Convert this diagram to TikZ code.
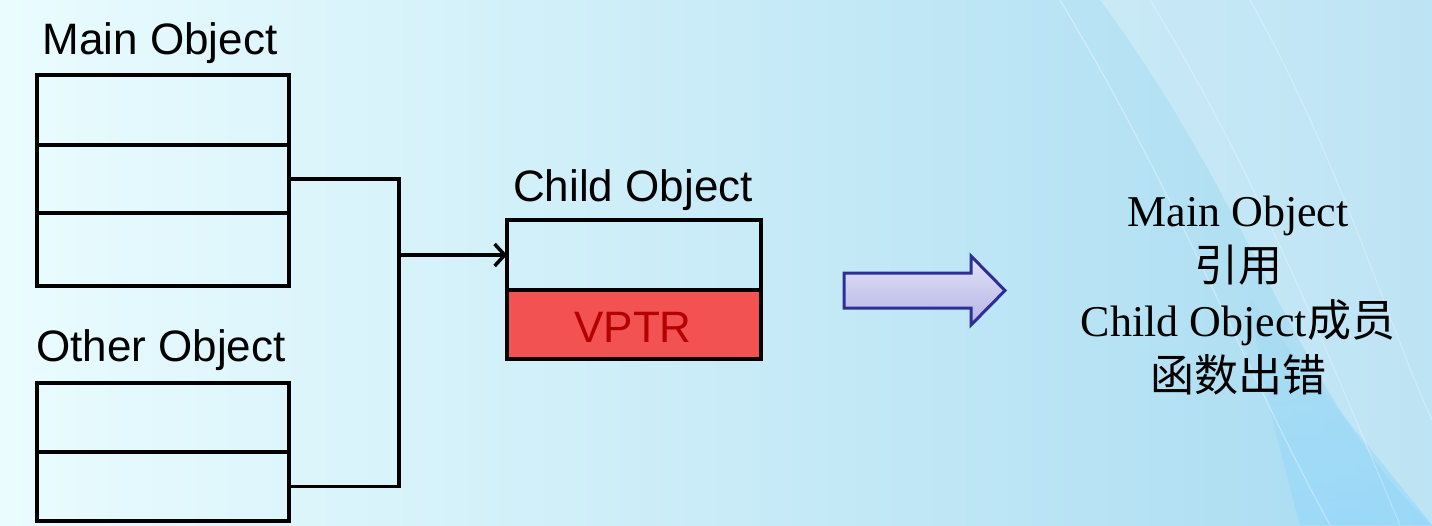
\documentclass[tikz,border=0pt]{standalone}
\usepackage{fontspec}
\setmainfont{Liberation Sans}
\newfontfamily\serifrm{Liberation Serif}
\newfontfamily\cjk{Noto Sans CJK SC}
\usetikzlibrary{arrows.meta}
\definecolor{bgleft}{HTML}{EAFCFE}
\definecolor{bgright}{HTML}{A8DBF1}
\definecolor{vptrfill}{HTML}{F25252}
\definecolor{vptrtext}{HTML}{B40000}
\definecolor{arrowedge}{HTML}{2E2E96}
\definecolor{arrowtop}{HTML}{E2E2F8}
\definecolor{arrowbot}{HTML}{B4B4E6}
\tikzset{
  cell/.style={draw=black, line width=3.5pt, minimum width=252pt, inner sep=0pt, outer sep=0pt},
  title/.style={font=\fontsize{44}{50}\selectfont, text=black, inner sep=0pt},
  conn/.style={draw=black, line width=3.5pt},
  rtext/.style={font=\fontsize{44}{55}\selectfont, align=center, inner sep=0pt}
}
\begin{document}
\begin{tikzpicture}[x=1pt,y=-1pt]
\useasboundingbox (0,0) rectangle (1432,525);
% background
\shade[left color=bgleft, right color=bgright] (0,0) rectangle (1432,525);
\fill[white, opacity=0.25] (1100,0) .. controls (1250,200) and (1300,400) .. (1432,525) -- (1432,0) -- cycle;
\shade[top color=bgright, bottom color=blue!35!cyan!45, opacity=0.5] (1250,300) .. controls (1330,400) and (1380,460) .. (1432,525) -- (1300,525) .. controls (1280,450) and (1260,380) .. (1250,300);
\draw[white, opacity=0.35, line width=1.2pt] (1060,0) .. controls (1180,200) and (1250,380) .. (1330,525);
\draw[white, opacity=0.3, line width=1pt] (1150,0) .. controls (1260,180) and (1330,360) .. (1400,525);
\draw[white, opacity=0.3, line width=1pt] (1250,0) .. controls (1340,160) and (1390,330) .. (1432,420);

% Main Object
\node[title] (mtitle) at (160,43) {Main Object};
\node[cell, minimum height=70pt] (m1) at (163,110) {};
\node[cell, minimum height=68pt] (m2) at (163,179) {};
\node[cell, minimum height=73pt] (m3) at (163,249.5) {};

% Other Object
\node[title] (otitle) at (161,350) {Other Object};
\node[cell, minimum height=69pt] (o1) at (163,417.5) {};
\node[cell, minimum height=69pt] (o2) at (163,486.5) {};

% Child Object
\node[title] (ctitle) at (633,190) {Child Object};
\node[cell, minimum width=254pt, minimum height=70pt] (c1) at (634,255) {};
\node[cell, minimum width=254pt, minimum height=69pt, fill=vptrfill] (c2) at (634,324.5) {};
\node[title, text=vptrtext] (vptr) at (633,327) {VPTR};

% connectors
\coordinate (bus) at (399,255);
\draw[conn] (m2.east) -| (bus) |- (o2.east);
\draw[conn, -{Straight Barb[length=10pt,width=22pt,line width=3.5pt]}] (bus) -- (c1.west);

% big arrow
\shade[top color=arrowtop, bottom color=arrowbot, draw=arrowedge, line width=3pt, line join=miter]
  (844,273) -- (971,273) -- (971,256) -- (1005,290.5) -- (971,325) -- (971,308) -- (844,308) -- cycle;

% right text
\node[rtext] (result) at (1238,296) {{\serifrm Main Object}\\{\cjk 引用}\\{\serifrm Child Object}{\cjk 成员}\\{\cjk 函数出错}};
\end{tikzpicture}
\end{document}
